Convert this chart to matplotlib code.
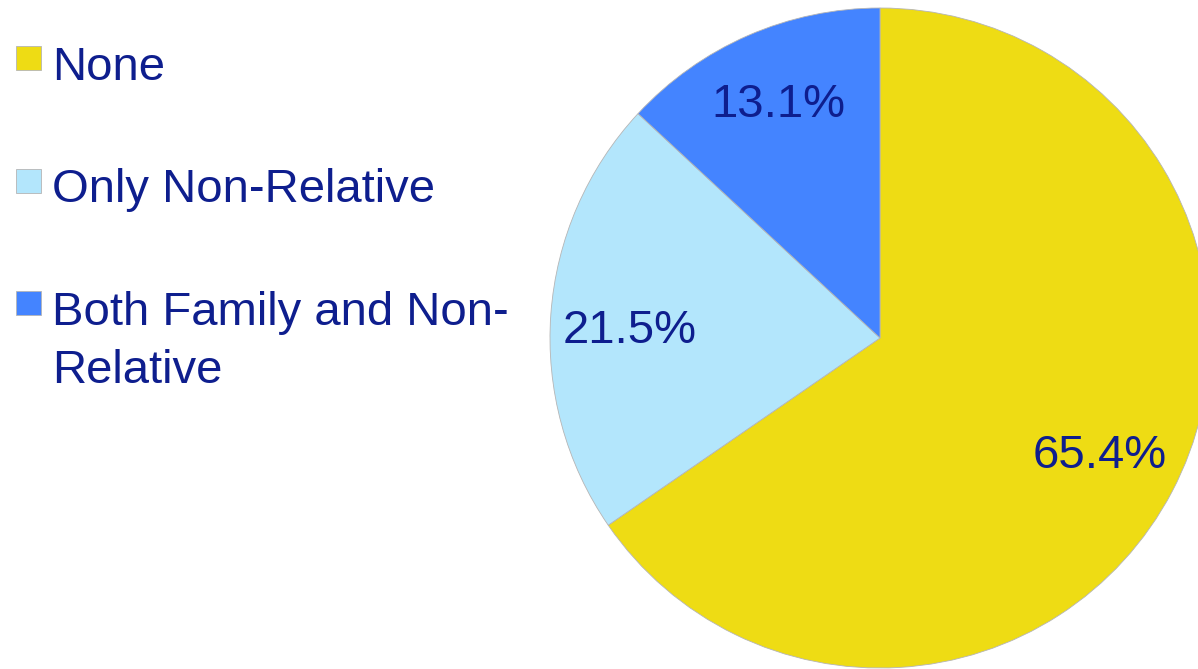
import matplotlib.pyplot as plt
from matplotlib.patches import Rectangle

labels = ['None', 'Only Non-Relative', 'Both Family and Non-\nRelative']
shares = [65.4, 21.5, 13.1]
colors = ['#EEDC14', '#B3E6FC', '#4484FF']
text_color = '#0E1E8E'

plt.rcParams['font.family'] = ['Liberation Sans', 'DejaVu Sans']

W, H = 1198, 669
fig = plt.figure(figsize=(W / 100, H / 100), dpi=100)

# pie: centre ~ (880, 338) px from top, radius ~ 330 px
r = 330
cx, cy = 880, 338
ax = fig.add_axes([(cx - r) / W, (H - cy - r) / H, 2 * r / W, 2 * r / H])
wedges, texts, autotexts = ax.pie(
    shares, colors=colors, startangle=90, counterclock=False,
    autopct='%.1f%%', pctdistance=0.77, radius=1,
    wedgeprops=dict(edgecolor='#b5b5b5', linewidth=0.6),
    textprops=dict(color=text_color, fontsize=34))
ax.set_xlim(-1, 1)
ax.set_ylim(-1, 1)
ax.set_aspect('equal')
ax.axis('off')

# small nudges so the percentages sit where the original put them
x, y = autotexts[1].get_position()
autotexts[1].set_position((x + 0.01, y - 0.035))
x, y = autotexts[0].get_position()
autotexts[0].set_position((x - 0.015, y))

# legend by hand: square sits beside the first line of each label
base = 80
step = 122.5
for i, (lab, col) in enumerate(zip(labels, colors)):
    y = base + i * step
    fig.patches.append(Rectangle((16 / W, 1 - (y - 10) / H), 25 / W, 24 / H,
                                 transform=fig.transFigure, facecolor=col,
                                 edgecolor='#b5b5b5', linewidth=0.6))
    first, *rest = lab.split('\n')
    fig.text(52 / W, 1 - y / H, first, fontsize=34, color=text_color,
             va='baseline', ha='left')
    for j, line in enumerate(rest, start=1):
        fig.text(52 / W, 1 - (y + 58 * j) / H, line, fontsize=34,
                 color=text_color, va='baseline', ha='left')

fig.savefig('out.png', dpi=100)
